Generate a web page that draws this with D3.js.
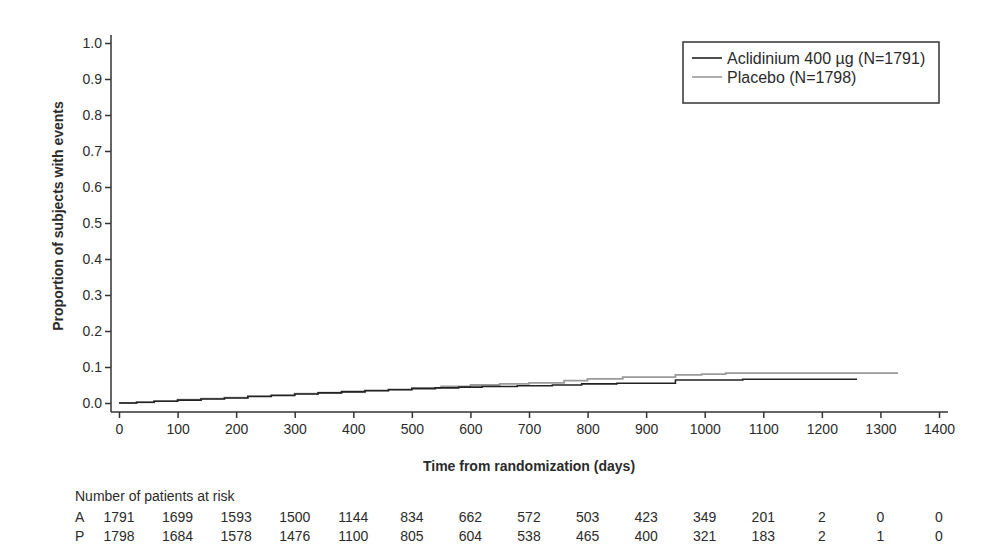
<!DOCTYPE html>
<html><head><meta charset="utf-8">
<script src="https://cdn.jsdelivr.net/npm/d3@7"></script>
<style>
body{margin:0;background:#fff;}
text{font-family:"Liberation Sans",Arial,Helvetica,sans-serif;fill:#2b2b2b;}
</style></head>
<body>
<svg id="c" width="1002" height="552"></svg>
<script>
// Data
const yTicks = [0,0.1,0.2,0.3,0.4,0.5,0.6,0.7,0.8,0.9,1.0];
const xTicks = [0,100,200,300,400,500,600,700,800,900,1000,1100,1200,1300,1400];
const aclDays = [0,30,60,100,140,180,220,260,300,340,380,420,460,500,540,580,620,680,740,790,850,950,1065,1260];
const aclProp = [0,0.002,0.005,0.008,0.011,0.014,0.018,0.021,0.025,0.028,0.031,0.034,0.037,0.040,0.042,0.044,0.046,0.048,0.050,0.053,0.055,0.064,0.066,0.066];
const plaDays = [0,30,60,100,140,180,220,260,300,340,380,420,460,500,550,600,650,700,760,800,860,950,995,1036,1330];
const plaProp = [0,0.002,0.005,0.009,0.012,0.015,0.019,0.022,0.026,0.029,0.032,0.035,0.038,0.042,0.046,0.050,0.053,0.056,0.062,0.067,0.072,0.078,0.080,0.083,0.083];
const seriesNames = ["Aclidinium 400 µg (N=1791)","Placebo (N=1798)"];
const riskLabels = ["A","P"];
const riskA = [1791,1699,1593,1500,1144,834,662,572,503,423,349,201,2,0,0];
const riskP = [1798,1684,1578,1476,1100,805,604,538,465,400,321,183,2,1,0];

const svg = d3.select("#c");
const x = d3.scaleLinear().domain([0,1400]).range([119,939]);
const y = d3.scaleLinear().domain([0,1]).range([403,43]);
const axisColor = "#333";
const tickFont = 14;

// Y axis
const yAxis = svg.append("g").attr("transform","translate(111,0)")
  .call(d3.axisLeft(y).tickValues(yTicks).tickFormat(d3.format(".1f")).tickSize(6).tickPadding(3));
yAxis.select(".domain").remove();
svg.append("line").attr("x1",111).attr("x2",111).attr("y1",35).attr("y2",412).attr("stroke",axisColor).attr("stroke-width",1.5);

// X axis
const xAxis = svg.append("g").attr("transform","translate(0,412)")
  .call(d3.axisBottom(x).tickValues(xTicks).tickFormat(d3.format("d")).tickSize(6).tickPadding(6));
xAxis.select(".domain").remove();
svg.append("line").attr("x1",111).attr("x2",948).attr("y1",412).attr("y2",412).attr("stroke",axisColor).attr("stroke-width",1.5);

svg.selectAll(".tick line").attr("stroke",axisColor).attr("stroke-width",1.5);
svg.selectAll(".tick text").attr("font-size",tickFont).attr("fill","#2b2b2b").attr("font-family","Liberation Sans, Arial, sans-serif");

// Axis titles
svg.append("text").attr("transform","translate(63,216) rotate(-90)")
  .attr("text-anchor","middle").attr("font-size",14).attr("font-weight","bold")
  .text("Proportion of subjects with events");
svg.append("text").attr("x",x(700)).attr("y",466).attr("dy","0.35em").attr("text-anchor","middle")
  .attr("font-size",14).attr("font-weight","bold").text("Time from randomization (days)");

// Curves
const line = d3.line().x(d=>x(d[0])).y(d=>y(d[1])).curve(d3.curveStepAfter);
const pla = plaDays.map((d,i)=>[d,plaProp[i]]);
const acl = aclDays.map((d,i)=>[d,aclProp[i]]);
svg.append("path").datum(pla).attr("d",line).attr("fill","none").attr("stroke","#9a9a9a").attr("stroke-width",1.8);
svg.append("path").datum(acl).attr("d",line).attr("fill","none").attr("stroke","#222").attr("stroke-width",1.6);

// Legend
const lg = svg.append("g");
lg.append("rect").attr("x",683).attr("y",42).attr("width",256).attr("height",61)
  .attr("fill","#fff").attr("stroke","#333").attr("stroke-width",1.5);
const legColors = ["#222","#9a9a9a"];
seriesNames.forEach((n,i)=>{
  const yy = 58 + i*19;
  lg.append("line").attr("x1",692).attr("x2",722).attr("y1",yy).attr("y2",yy).attr("stroke",legColors[i]).attr("stroke-width",1.6);
  lg.append("text").attr("x",727).attr("y",yy).attr("dy","0.35em").attr("font-size",16).text(n);
});

// Risk table
svg.append("text").attr("x",75).attr("y",496).attr("dy","0.35em").attr("font-size",14).text("Number of patients at risk");
[riskA,riskP].forEach((row,r)=>{
  const yy = 517 + r*19;
  svg.append("text").attr("x",75).attr("y",yy).attr("dy","0.35em").attr("font-size",14).text(riskLabels[r]);
  svg.selectAll(null).data(row).enter().append("text")
    .attr("x",(d,i)=>x(xTicks[i])).attr("y",yy).attr("dy","0.35em")
    .attr("text-anchor","middle").attr("font-size",14).text(d=>d);
});
</script>
</body></html>
